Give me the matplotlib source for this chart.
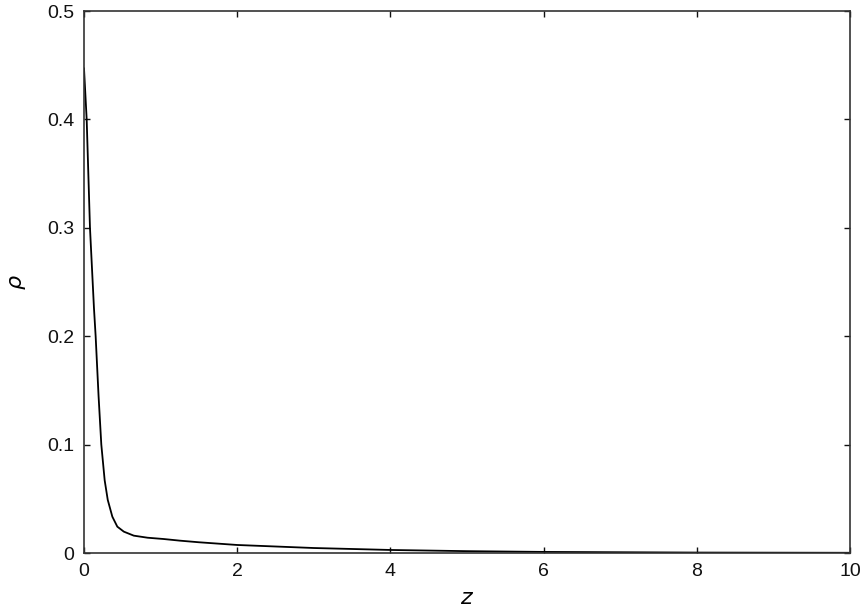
import matplotlib.pyplot as plt

# density profile
z = [0.0, 0.035, 0.078, 0.13, 0.152, 0.19, 0.226, 0.27, 0.31, 0.37, 0.435,
     0.52, 0.65, 0.83, 1.04, 1.25, 1.5, 2.0, 3.0, 4.0, 5.0, 6.0, 7.0, 8.0, 9.0, 10.0]
rho = [0.447, 0.4, 0.3, 0.226, 0.2, 0.145, 0.1, 0.067, 0.049, 0.0335, 0.0243,
       0.0197, 0.016, 0.0141, 0.0129, 0.0114, 0.0099, 0.0074, 0.0046, 0.0028,
       0.0017, 0.001, 0.0007, 0.0004, 0.0003, 0.0002]

xticks = [0, 2, 4, 6, 8, 10]
yticks = [0, 0.1, 0.2, 0.3, 0.4, 0.5]
ytick_labels = ["0", "0.1", "0.2", "0.3", "0.4", "0.5"]

plt.rcParams['font.family'] = ['Liberation Sans', 'DejaVu Sans']

fig = plt.figure(figsize=(8.66, 6.08), dpi=100)
ax = fig.add_axes([84 / 866, 55 / 608, 766 / 866, 542 / 608])

ax.plot(z, rho, color='black', linewidth=1.3)

ax.set_xlim(0, 10)
ax.set_ylim(0, 0.5)
ax.set_xticks(xticks)
ax.set_xticklabels([str(t) for t in xticks])
ax.set_yticks(yticks)
ax.set_yticklabels(ytick_labels)

ax.tick_params(direction='in', top=True, right=True, length=4, width=1,
               labelsize=14, colors='#111111')
ax.tick_params(axis='x', pad=7)
ax.tick_params(axis='y', pad=7)
for s in ax.spines.values():
    s.set_linewidth(1.2)
    s.set_color('#333333')

ax.set_xlabel(r"$z$", fontsize=16, labelpad=6)
ax.set_ylabel(r"$\rho$", fontsize=16, labelpad=14)

fig.savefig("out.png", dpi=100)
